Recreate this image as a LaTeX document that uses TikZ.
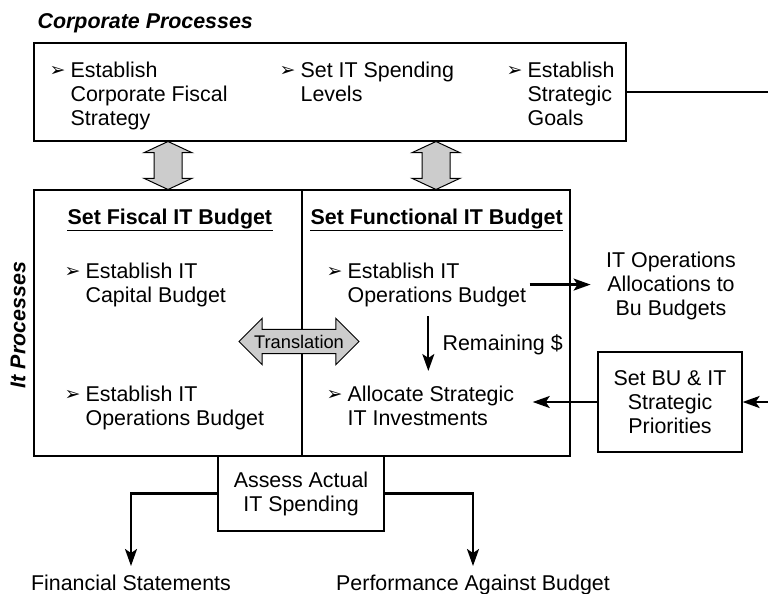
\documentclass[tikz,border=0pt]{standalone}
\usepackage{fontspec}
\setmainfont{Liberation Sans}
\newfontfamily\dingfont{DejaVu Sans}
\usetikzlibrary{arrows.meta,shapes.arrows,calc}

\newcommand{\bul}{\llap{\raisebox{0.5pt}{\dingfont\fontsize{19}{19}\selectfont ➢}\hspace{5pt}}}

\begin{document}
\begin{tikzpicture}[x=1pt,y=-1pt,line width=1.2pt,>={Stealth[length=17pt,width=12pt,inset=4pt]},
    every node/.style={font=\fontsize{21.4}{24}\selectfont}]

    \tikzstyle{box}=[draw,rectangle,inner sep=0pt]
    \tikzstyle{bitem}=[align=left,inner sep=0pt,anchor=north west]
    \tikzstyle{txt}=[align=center,inner sep=0pt]
    \tikzstyle{heading}=[bitem,font=\fontsize{21.4}{24}\selectfont\bfseries]
    \tikzstyle{flow}=[->,line width=2.2pt]
    \tikzstyle{fatarrow}=[double arrow,draw,fill=gray!40,line width=1pt]

    \useasboundingbox (0,0) rectangle (768,594);

    % corporate processes
    \node[bitem,font=\fontsize{21.4}{24}\selectfont\bfseries\itshape] (corpT) at (37,13) {Corporate Processes};
    \node[box,minimum width=592pt,minimum height=98pt] (corp) at (330,92) {};
    \node[bitem] (fiscStrat) at (70,61)  {\bul Establish\\Corporate Fiscal\\Strategy};
    \node[bitem] (spend)     at (300,61) {\bul Set IT Spending\\Levels};
    \node[bitem] (goals)     at (527,61) {\bul Establish\\Strategic\\Goals};

    % it processes
    \node[box,minimum width=268pt,minimum height=266pt] (fisc) at (168,323) {};
    \node[box,minimum width=268pt,minimum height=266pt] (func) at (436,323) {};
    \node[rotate=90,font=\fontsize{21.4}{24}\selectfont\bfseries\itshape] (itProc) at (18,325) {It Processes};

    \node[heading] (fiscH) at (67,208)  {Set Fiscal IT Budget};
    \node[heading] (funcH) at (310,208) {Set Functional IT Budget};
    \draw ([yshift=-1.5pt]fiscH.south west) -- ([yshift=-1.5pt]fiscH.south east);
    \draw ([yshift=-1.5pt]funcH.south west) -- ([yshift=-1.5pt]funcH.south east);

    \node[bitem] (capB)   at (85,262)  {\bul Establish IT\\Capital Budget};
    \node[bitem] (opsB)   at (85,385)  {\bul Establish IT\\Operations Budget};
    \node[bitem] (opsF)   at (347,262) {\bul Establish IT\\Operations Budget};
    \node[bitem] (stratI) at (347,385) {\bul Allocate Strategic\\IT Investments};
    \node[bitem] (remain) at (442,334) {Remaining \$};

    \node[fatarrow,minimum height=120pt,double arrow head extend=11pt,inner xsep=-8pt,inner ysep=5pt,
          font=\fontsize{18.3}{20}\selectfont] (transl) at (299,341.5) {Translation};
    \node[fatarrow,shape border rotate=90,minimum height=48pt,double arrow head extend=10pt,
          double arrow tip angle=130,inner sep=13.5pt] (vFisc) at ($(corp.south -| fisc.north)!.5!(fisc.north)$) {};
    \node[fatarrow,shape border rotate=90,minimum height=48pt,double arrow head extend=10pt,
          double arrow tip angle=130,inner sep=13.5pt] (vFunc) at ($(corp.south -| func.north)!.5!(func.north)$) {};

    % outside
    \node[txt,anchor=north] (opsAlloc) at (671,251) {IT Operations\\Allocations to\\Bu Budgets};
    \node[box,minimum width=144pt,minimum height=100pt,align=center] (bu) at (670,402) {Set BU \& IT\\Strategic\\Priorities};
    \node[box,minimum width=166pt,minimum height=75pt,align=center] (assess) at (301,493.5) {Assess Actual\\IT Spending};
    \node[txt,anchor=north] (finStat) at (131,574) {Financial Statements};
    \node[txt,anchor=north] (perf)    at (473,574) {Performance Against Budget};

    \coordinate (rimA) at (768,92);
    \coordinate (rimB) at (768,402);

    \draw[line width=2.2pt] (corp.east) -- (rimA);
    \draw[flow] (rimB) -- (bu.east);
    \draw[flow,shorten >=18pt] (bu.west) -- (bu.west -| stratI.east);
    \draw[flow,shorten <=3pt,shorten >=15pt] (opsF.east) -- (opsF.east -| opsAlloc.west);
    \draw[flow,shorten <=9pt,shorten >=14pt] ([xshift=-8.5pt]opsF.south) -- ([xshift=-8.5pt]opsF.south |- stratI.north);
    \draw[flow,shorten >=8pt] (assess.west) -| (finStat.north);
    \draw[flow,shorten >=8pt] (assess.east) -| (perf.north);
\end{tikzpicture}
\end{document}
